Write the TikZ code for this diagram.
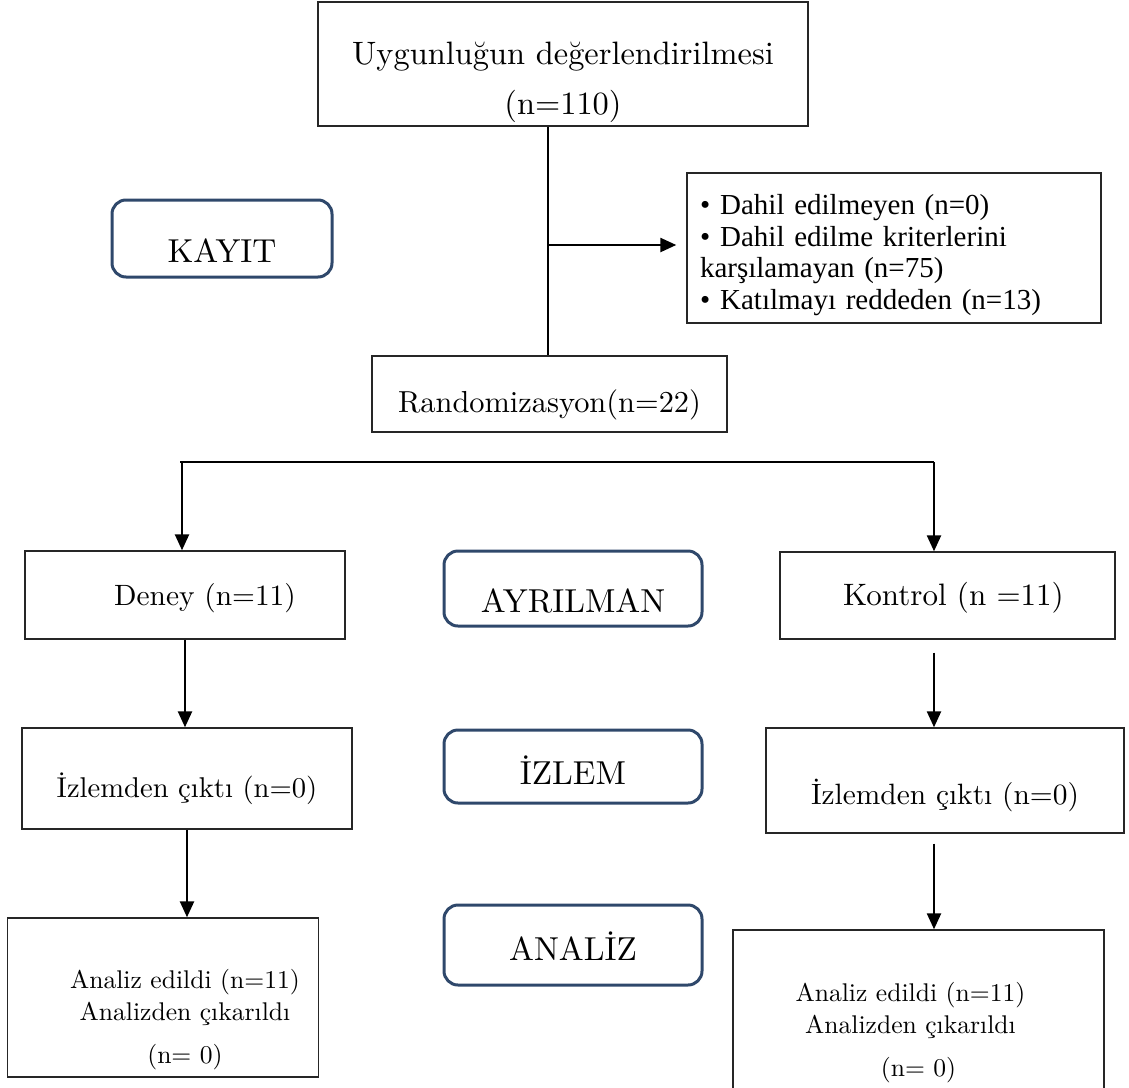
\documentclass[tikz,border=0pt]{standalone}
\usepackage{fontspec}
\usetikzlibrary{arrows.meta}
\setmainfont{lmroman10-regular.otf}
\newfontfamily\listfont{Liberation Serif}
\definecolor{tagblue}{RGB}{47,72,107}

\begin{document}
\begin{tikzpicture}[x=0.5pt,y=-0.5pt,
    box/.style={draw=black!85,line width=0.7pt,inner sep=0pt,font=\fontsize{14.7}{18}\selectfont},
    tag/.style={draw=tagblue,line width=1.5pt,rounded corners=7pt,inner sep=0pt,
      minimum width=129pt,font=\fontsize{16.6}{20}\selectfont,text depth=0pt},
    arr/.style={line width=1.2pt,-{Triangle[length=8pt,width=7pt]}}]
    \useasboundingbox (0,0) rectangle (1129,1087);
    % upper part
    \node[box,minimum width=245pt,minimum height=62pt,align=center,font=\fontsize{16.2}{25}\selectfont] (top) at (563,64)
      {\rule{0pt}{30pt}Uygunluğun değerlendirilmesi\\(n=110)};
    \node[box,text width=194pt,inner xsep=6.5pt,minimum height=75pt,align=left,font=\listfont\fontsize{14.5}{15.75}\selectfont] (excl) at (894,248)
      {\rule{0pt}{17pt}\textbullet\hspace{5pt}Dahil edilmeyen (n=0)\\
       \textbullet\hspace{5pt}Dahil edilme kriterlerini\\
       karşılamayan (n=75)\\
       \textbullet\hspace{5pt}Katılmayı reddeden (n=13)};
    \node[tag,minimum width=110pt,minimum height=38.5pt,text height=24pt] (kayit) at (222,238.5) {KAYIT};
    \node[box,minimum width=177.5pt,minimum height=38pt,text height=18.5pt,text depth=0pt,font=\fontsize{15.2}{19}\selectfont] (rand) at (549.5,394) {Randomizasyon(n=22)};
    \coordinate (trunk) at (548,245);
    \draw[line width=1.2pt] (trunk |- top.south) -- (trunk |- rand.north);
    \draw[arr,shorten >=5pt] (trunk) -- (excl.west |- trunk);
    % split into two groups
    \coordinate (forkL) at (182,462);
    \coordinate (forkR) at (934,462);
    \draw[line width=0.7pt] ([xshift=-1pt]forkL) -- (forkR);
    \node[box,minimum width=160pt,minimum height=44pt,text height=10.5pt,text depth=0pt] (deney) at (185,595) {\hspace*{20pt}Deney (n=11)};
    \node[tag,minimum height=37.5pt,text height=23.5pt] (ayril) at (573,588.5) {AYRILMAN};
    \node[box,minimum width=167.5pt,minimum height=43.5pt,text height=10pt,text depth=0pt,font=\fontsize{15.5}{19}\selectfont] (kontrol) at (947.5,595.5) {\hspace*{6pt}Kontrol (n =11)};
    \draw[arr] (forkL) -- (forkL |- deney.north);
    \draw[arr] (forkR) -- (forkR |- kontrol.north);
    % follow-up
    \node[box,minimum width=165pt,minimum height=50.5pt,text height=18.5pt,text depth=0pt,font=\fontsize{14.3}{18}\selectfont] (izL) at (187,778.5) {İzlemden çıktı (n=0)};
    \node[tag,minimum height=36.5pt,text height=17.5pt] (izlem) at (573,766.5) {İZLEM};
    \node[box,minimum width=179pt,minimum height=52.5pt,text height=23.5pt,text depth=0pt] (izR) at (945,780.5) {İzlemden çıktı (n=0)};
    \draw[arr] (deney.south) -- (izL.north -| deney.south);
    \draw[arr,shorten <=6.5pt] (kontrol.south -| forkR) -- (izR.north -| forkR);
    % analysis
    \node[box,minimum width=155.5pt,minimum height=79.5pt,align=center,font=\fontsize{12.8}{16}\selectfont] (anL) at (163,997.5)
      {\rule{0pt}{31.5pt}\hspace*{22pt}Analiz edildi (n=11)\\\hspace*{22pt}Analizden çıkarıldı\\[5.5pt]\hspace*{22pt}(n= 0)};
    \node[tag,minimum height=40pt,text height=15pt] (analiz) at (573,945) {ANALİZ};
    \node[box,minimum width=185.5pt,minimum height=81pt,align=center,font=\fontsize{12.8}{16}\selectfont] (anR) at (918.5,1011)
      {\rule{0pt}{31.5pt}\hspace*{-8pt}Analiz edildi (n=11)\\\hspace*{-8pt}Analizden çıkarıldı\\[5.5pt](n= 0)};
    \draw[arr] (izL.south) -- (anL.north -| izL.south);
    \draw[arr,shorten <=5pt] (izR.south -| forkR) -- (anR.north -| forkR);
\end{tikzpicture}
\end{document}
